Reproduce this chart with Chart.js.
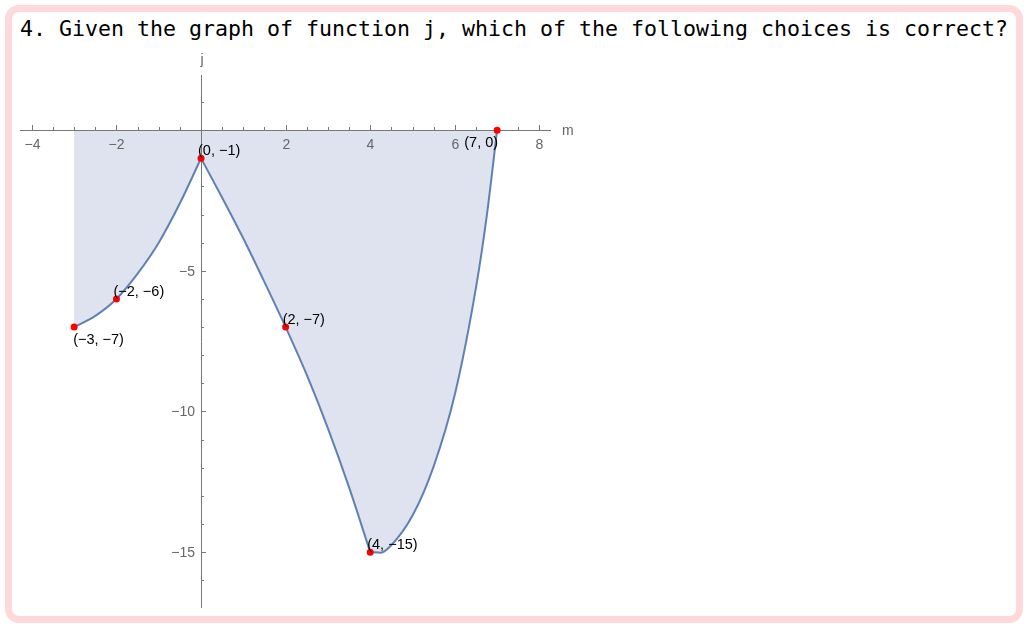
<!DOCTYPE html>
<html>
<head>
<meta charset="utf-8">
<script src="https://cdn.jsdelivr.net/npm/chart.js@4"></script>
<style>
  body { margin: 0; background: #fff; }
  #frame { position: absolute; left: 5px; top: 5px; width: 1004px; height: 604px;
           border: 7px solid #ffd9d9; border-radius: 14px; }
  #title { position: absolute; left: 20px; top: 16px; font: 21.6px "DejaVu Sans Mono", monospace;
           line-height: 26px; color: #000; white-space: nowrap; }
  #c { position: absolute; left: 0; top: 0; }
</style>
</head>
<body>
<div id="frame"></div>
<div id="title">4. Given the graph of function j, which of the following choices is correct?</div>
<canvas id="c" width="1028" height="629"></canvas>
<script>
// curve, in three pieces (sharp corners at x=0 and x=4)
const leftX = [-3, -2.5, -2, -1.5, -1, -0.5, 0]
const leftY = [-7, -6.6, -6, -5.1, -4.0, -2.6, -1]
const midX = [0, 0.5, 1, 1.5, 2, 2.5, 3, 3.5, 4]
const midY = [-1, -2.4, -3.85, -5.4, -7, -8.7, -10.6, -12.7, -15]
const rightX = [4, 4.25, 4.5, 5, 5.5, 6, 6.5, 6.75, 7]
const rightY = [-15, -15.02, -14.75, -13.7, -11.95, -9.4, -5.6, -3.1, 0]

// labelled points
const ptX = [-3, -2, 0, 2, 4, 7]
const ptY = [-7, -6, -1, -7, -15, 0]
const ptLabels = ['(\u22123, \u22127)', '(\u22122, \u22126)', '(0, \u22121)', '(2, \u22127)', '(4, \u221215)', '(7, 0)']

const xTitle = 'm'
const yTitle = 'j'

const toXY = (xs, ys) => xs.map((x, i) => ({ x: x, y: ys[i] }))
const minus = v => (v < 0 ? '\u2212' + Math.abs(v) : String(v))

const lineBlue = '#5e81b5'
const fillBlue = '#dee3ef'
const axisGray = '#777'
const textGray = '#666'
const font = '"Liberation Sans", Arial, sans-serif'

// where each point label sits relative to its dot
const labelSide = ['below', 'above', 'above', 'above', 'above', 'belowLeft']

const curveSet = (xs, ys) => ({
    type: 'line',
    data: toXY(xs, ys),
    borderColor: lineBlue,
    borderWidth: 2,
    backgroundColor: fillBlue,
    fill: 'origin',
    pointRadius: 0,
    cubicInterpolationMode: 'monotone',
    order: 1
})

// straight-segment backing fill so the joins between pieces leave no seam
const backing = {
    type: 'line',
    data: toXY(leftX.concat(midX, rightX), leftY.concat(midY, rightY)),
    borderWidth: 0,
    borderColor: 'rgba(0,0,0,0)',
    backgroundColor: fillBlue,
    fill: 'origin',
    pointRadius: 0,
    tension: 0,
    order: 2
}

const axesPlugin = {
    id: 'mmaAxes',
    beforeDatasetsDraw(chart) {
        const ctx = chart.ctx
        const xs = chart.scales.x
        const ys = chart.scales.y
        const x0 = xs.getPixelForValue(0)
        const y0 = ys.getPixelForValue(0)
        ctx.save()
        ctx.strokeStyle = axisGray
        ctx.lineWidth = 1
        ctx.fillStyle = textGray
        ctx.font = '14px ' + font
        // x ticks, pointing up
        xs.ticks.forEach(t => {
            const v = t.value
            const px = Math.round(xs.getPixelForValue(v)) + 0.5
            const major = Math.abs(v % 2) < 1e-9
            const len = major ? 5 : 3
            ctx.beginPath()
            ctx.moveTo(px, Math.round(y0))
            ctx.lineTo(px, Math.round(y0) - len)
            ctx.stroke()
            if (major && v !== 0) {
                ctx.textAlign = 'center'
                ctx.textBaseline = 'top'
                ctx.fillText(minus(v), px, y0 + 8)
            }
        })
        // y ticks, pointing right
        ys.ticks.forEach(t => {
            const v = t.value
            const py = Math.round(ys.getPixelForValue(v)) + 0.5
            const major = Math.abs(v % 5) < 1e-9
            const len = major ? 5 : 3
            ctx.beginPath()
            ctx.moveTo(Math.round(x0), py)
            ctx.lineTo(Math.round(x0) + len, py)
            ctx.stroke()
            if (major && v !== 0) {
                ctx.textAlign = 'right'
                ctx.textBaseline = 'middle'
                ctx.fillText(minus(v), x0 - 6, py + 1)
            }
        })
        ctx.textAlign = 'left'
        ctx.textBaseline = 'middle'
        ctx.fillText(xTitle, chart.chartArea.right + 12, y0 + 1)
        ctx.textAlign = 'center'
        ctx.textBaseline = 'bottom'
        ctx.fillText(yTitle, x0 + 1, chart.chartArea.top - 8)
        ctx.restore()
    },
    afterDatasetsDraw(chart) {
        const ctx = chart.ctx
        const xs = chart.scales.x
        const ys = chart.scales.y
        ctx.save()
        ctx.fillStyle = '#000'
        ctx.font = '14.5px ' + font
        ptX.forEach((x, i) => {
            const px = xs.getPixelForValue(x)
            const py = ys.getPixelForValue(ptY[i])
            const side = labelSide[i]
            if (side === 'below') {
                ctx.textAlign = 'left'
                ctx.textBaseline = 'top'
                ctx.fillText(ptLabels[i], px - 1, py + 6)
            } else if (side === 'belowLeft') {
                ctx.textAlign = 'right'
                ctx.textBaseline = 'top'
                ctx.fillText(ptLabels[i], px + 1, py + 6)
            } else {
                ctx.textAlign = 'left'
                ctx.textBaseline = 'alphabetic'
                ctx.fillText(ptLabels[i], px - 3, py - 3)
            }
        })
        ctx.restore()
    }
}

const ctx = document.getElementById('c').getContext('2d')
const config = {
    type: 'scatter',
    data: {
        datasets: [
            backing,
            curveSet(leftX, leftY),
            curveSet(midX, midY),
            curveSet(rightX, rightY),
            {
                type: 'scatter',
                data: toXY(ptX, ptY),
                backgroundColor: '#ff0000',
                borderColor: '#ff0000',
                borderWidth: 0,
                pointRadius: 3.5,
                order: 0
            }
        ]
    },
    options: {
        responsive: false,
        animation: false,
        layout: { padding: { left: 20, top: 75, right: 478, bottom: 22 } },
        plugins: {
            legend: { display: false },
            tooltip: { enabled: false },
            filler: { drawTime: 'beforeDraw' }
        },
        scales: {
            x: {
                type: 'linear',
                min: -4.28,
                max: 8.25,
                position: { y: 0 },
                ticks: { display: false, stepSize: 0.5, includeBounds: false },
                grid: { drawOnChartArea: false, drawTicks: false },
                border: { display: true, color: axisGray, width: 1 }
            },
            y: {
                type: 'linear',
                min: -16.95,
                max: 1.96,
                position: { x: 0 },
                ticks: { display: false, stepSize: 1, includeBounds: false },
                grid: { drawOnChartArea: false, drawTicks: false },
                border: { display: true, color: axisGray, width: 1 }
            }
        }
    },
    plugins: [axesPlugin]
}
let myChart = new Chart(ctx, config)
</script>
</body>
</html>
